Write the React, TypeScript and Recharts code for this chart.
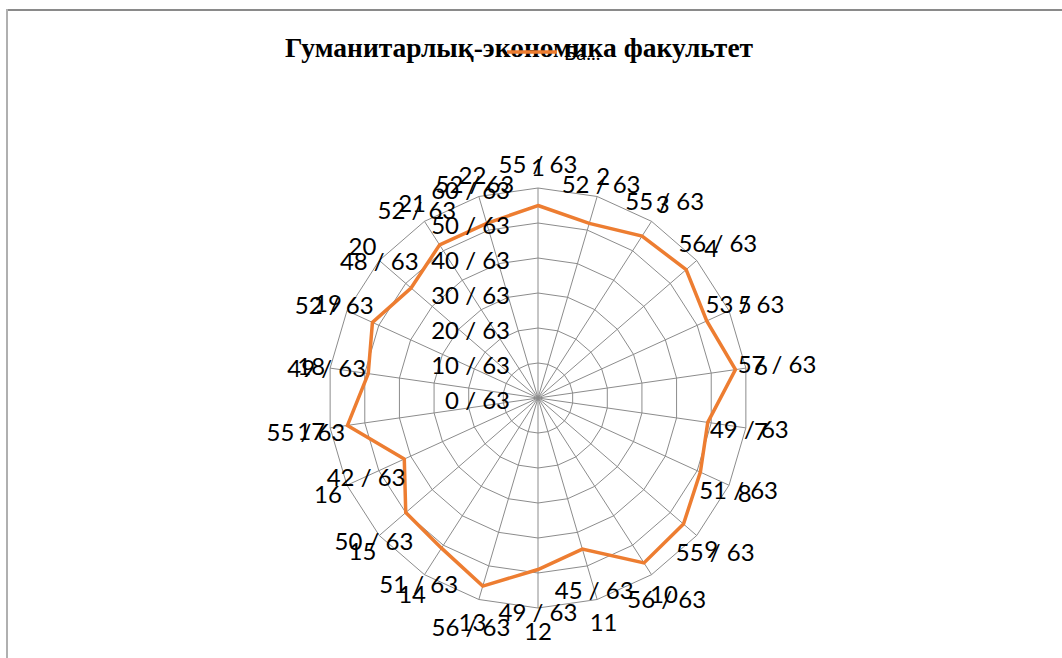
import React from 'react';
import { RadarChart, Radar, PolarGrid, PolarAngleAxis, PolarRadiusAxis, Legend } from 'recharts';

const TITLE = 'Гуманитарлық-экономика факультет';
const SERIES_NAME = 'Ба...';
const MAX_SCORE = 63;
const CATEGORIES = ['1', '2', '3', '4', '5', '6', '7', '8', '9', '10', '11', '12', '13', '14', '15', '16', '17', '18', '19', '20', '21', '22'];
const VALUES = [55, 52, 55, 56, 53, 57, 49, 51, 55, 56, 45, 49, 56, 51, 50, 42, 55, 49, 52, 48, 52, 52];
const RADIAL_TICKS = [0, 10, 20, 30, 40, 50, 60];
const RADIAL_MAX = 60;

const data = CATEGORIES.map((c, i) => ({ category: c, value: VALUES[i] }));

const FONT = 'Lato, "Open Sans", sans-serif';
const ORANGE = '#ED7D31';
const GRID = '#8c8c8c';

function AngleTick(props: any) {
  const { x, y, cx, cy, radius, payload } = props;
  const idx = CATEGORIES.indexOf(String(payload.value));
  const dx = x - cx;
  const dy = y - cy;
  const d = Math.hypot(dx, dy) || 1;
  const ux = dx / d;
  const uy = dy / d;
  const v = VALUES[idx];
  const catR = radius + 14 + 8 * Math.abs(uy) + 4 * Math.abs(ux) * (String(payload.value).length - 1);
  const labR = (radius * v) / RADIAL_MAX + 42;
  return (
    <g>
      <text x={cx + ux * catR} y={cy + uy * catR} textAnchor="middle" dominantBaseline="central" fontFamily={FONT} fontSize={24} fill="#000">
        {payload.value}
      </text>
      <text x={cx + ux * labR} y={cy + uy * labR} textAnchor="middle" dominantBaseline="central" fontFamily={FONT} fontSize={24} fill="#000">
        {`${v} / ${MAX_SCORE}`}
      </text>
    </g>
  );
}

function RadiusTick(props: any) {
  const { x, y, payload } = props;
  return (
    <text x={x - 28} y={y + 1} textAnchor="end" dominantBaseline="central" fontFamily={FONT} fontSize={24} fill="#000">
      {`${payload.value} / ${MAX_SCORE}`}
    </text>
  );
}

function LegendContent() {
  return (
    <div style={{ display: 'flex', alignItems: 'center', fontFamily: FONT, fontSize: 20, color: '#000' }}>
      <svg width={52} height={10} style={{ display: 'block', flex: '0 0 52px' }}>
        <line x1={1} y1={5} x2={51} y2={5} stroke={ORANGE} strokeWidth={3.5} />
      </svg>
      <span style={{ marginLeft: 6 }}>{SERIES_NAME}</span>
    </div>
  );
}

export default function App() {
  return (
    <div style={{ position: 'absolute', left: 0, top: 0, width: 1062, height: 658, background: '#fff', overflow: 'hidden' }}>
      <div style={{ position: 'absolute', left: 6, top: 9, width: 1056, height: 2, background: '#8a8a8a' }} />
      <div style={{ position: 'absolute', left: 6, top: 9, width: 2, height: 649, background: '#b0b0b0' }} />
      <div style={{ position: 'absolute', left: 0, top: 34, width: 1038, textAlign: 'center', fontFamily: '"Liberation Serif", "Times New Roman", serif', fontWeight: 'bold', fontSize: 27.5, lineHeight: '27.5px', color: '#000' }}>
        {TITLE}
      </div>
      <div style={{ position: 'absolute', left: 0, top: 0, zIndex: 2 }}>
        <RadarChart width={1062} height={658} data={data} cx={538} cy={398} outerRadius={210} margin={{ top: 0, right: 0, bottom: 0, left: 0 }}>
          <PolarGrid gridType="polygon" stroke={GRID} strokeWidth={1} />
          <PolarAngleAxis dataKey="category" tick={<AngleTick />} tickLine={false} axisLine={false} />
          <PolarRadiusAxis angle={90} domain={[0, RADIAL_MAX]} ticks={RADIAL_TICKS as any} tickCount={7} tick={<RadiusTick />} axisLine={false} tickLine={false} />
          <Radar name={SERIES_NAME} dataKey="value" stroke={ORANGE} strokeWidth={3.5} fill="none" fillOpacity={0} dot={false} isAnimationActive={false} />
          <Legend content={<LegendContent />} wrapperStyle={{ position: 'absolute', left: 506, top: 40, width: 120 }} />
        </RadarChart>
      </div>
    </div>
  );
}
